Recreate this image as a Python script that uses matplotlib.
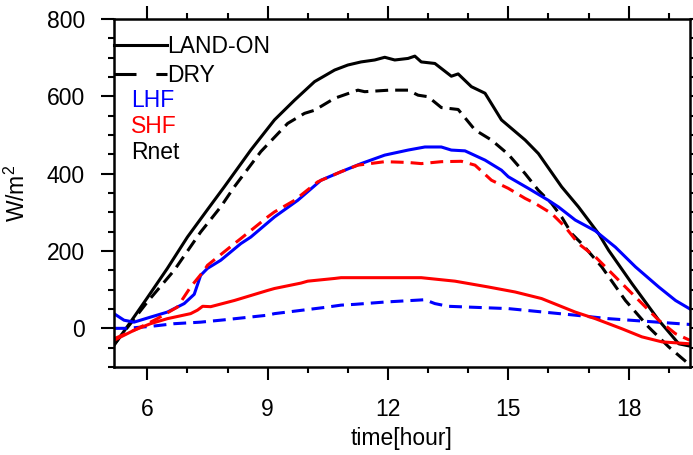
import matplotlib
matplotlib.use("Agg")
import matplotlib.pyplot as plt
from matplotlib.ticker import MultipleLocator
from matplotlib.lines import Line2D

plt.rcParams['font.family'] = ['Liberation Sans', 'DejaVu Sans']
plt.rcParams['mathtext.fontset'] = 'custom'
plt.rcParams['mathtext.rm'] = 'Liberation Sans'

# ---- data ----
t_rnet_on = [5.17, 5.58, 6.0, 6.5, 7.0, 7.5, 7.92, 8.58, 9.17, 9.67, 10.17, 10.67, 11.0, 11.33,
             11.67, 11.92, 12.17, 12.5, 12.67, 12.83, 13.17, 13.58, 13.75, 14.08, 14.42, 14.83,
             15.42, 15.75, 16.33, 16.75, 17.25, 17.5, 18.08, 18.75, 19.25, 19.53]
rnet_on = [-44, 16, 79, 155, 236, 307, 366, 461, 539, 590, 638, 668, 681, 689,
           694, 701, 694, 698, 704, 689, 685, 652, 658, 625, 608, 539,
           487, 452, 366, 314, 245, 202, 116, 21, -40, -46]

t_rnet_dry = [5.17, 5.58, 6.0, 6.67, 7.33, 7.83, 8.17, 8.83, 9.5, 9.92, 10.17, 10.67, 11.25,
              11.42, 12.04, 12.5, 12.75, 13.0, 13.33, 13.75, 14.17, 14.58, 15.0, 15.42, 15.75,
              16.08, 16.33, 16.58, 16.83, 17.33, 17.92, 18.5, 19.0, 19.53]
rnet_dry = [-42, 12, 68, 150, 249, 314, 366, 457, 530, 556, 564, 595, 616,
            612, 616, 616, 603, 599, 571, 566, 513, 487, 450, 400, 357,
            323, 288, 245, 219, 159, 72, 3, -48, -95]

t_lhf_on = [5.17, 5.42, 5.67, 6.08, 6.5, 6.92, 7.17, 7.33, 7.5, 7.83, 8.33, 8.58, 9.17, 9.75,
            10.33, 10.83, 11.33, 11.92, 12.5, 12.92, 13.33, 13.58, 13.92, 14.42, 14.83, 15.0,
            15.5, 16.0, 16.25, 16.67, 17.17, 17.67, 18.17, 18.75, 19.17, 19.53]
lhf_on = [38, 21, 16, 29, 42, 64, 88, 137, 155, 176, 219, 236, 288, 331,
          383, 405, 426, 448, 461, 469, 469, 461, 459, 435, 409, 392,
          362, 331, 314, 280, 252, 210, 159, 107, 72, 50]

t_shf_on = [5.17, 5.67, 6.08, 6.5, 7.08, 7.25, 7.38, 7.58, 8.17, 8.33, 9.0, 9.17, 9.83, 10.0,
            10.67, 10.83, 11.92, 12.83, 13.67, 14.5, 15.17, 15.83, 16.67, 17.17, 17.83, 18.33,
            18.83, 19.53]
shf_on = [-31, -5, 12, 25, 38, 47, 57, 56, 72, 77, 98, 103, 117, 122,
          129, 131, 131, 131, 122, 107, 94, 77, 42, 25, -1, -22,
          -35, -40]

t_shf_dry = [5.17, 5.67, 6.08, 6.25, 6.75, 7.08, 7.42, 7.5, 8.17, 8.33, 9.0, 9.17, 9.67, 10.25,
             10.83, 11.25, 11.92, 12.5, 12.83, 13.33, 13.83, 14.17, 14.58, 15.0, 15.42, 15.67,
             16.08, 16.42, 16.75, 17.17, 17.92, 18.75, 19.17, 19.53]
shf_dry = [-27, -5, 16, 25, 55, 107, 150, 163, 219, 232, 288, 301, 331, 379,
           405, 422, 431, 429, 426, 431, 432, 422, 383, 362, 336, 323,
           297, 262, 219, 185, 107, 21, -14, -31]

t_lhf_dry = [5.17, 5.5, 5.83, 6.08, 6.67, 7.33, 7.92, 9.0, 9.17, 10.42, 10.83, 11.17, 11.92,
             12.92, 13.17, 13.5, 15.0, 16.67, 17.5, 19.53]
lhf_dry = [0, 0, 3, 5, 12, 16, 22, 34, 38, 54, 60, 62, 68,
           74, 64, 57, 51, 34, 25, 10]

# ---- figure ----
fig = plt.figure(figsize=(6.93, 4.55), dpi=100)
ax = fig.add_axes([114/693, 88/455, 576/693, 348/455])

FS = 16.5
lw = 2.2
dash = (4.2, 2.3)
ax.plot(t_rnet_on, rnet_on, color='black', lw=lw)
ax.plot(t_rnet_dry, rnet_dry, color='black', lw=lw, ls=(0, dash))
ax.plot(t_lhf_on, lhf_on, color='#0000ff', lw=lw)
ax.plot(t_lhf_dry, lhf_dry, color='#0000ff', lw=lw, ls=(0, dash))
ax.plot(t_shf_on, shf_on, color='#ff0000', lw=lw)
ax.plot(t_shf_dry, shf_dry, color='#ff0000', lw=lw, ls=(0, dash))

ax.set_xlim(5.17, 19.53)
ax.set_ylim(-100, 800)

ax.xaxis.set_major_locator(MultipleLocator(3))
ax.xaxis.set_minor_locator(MultipleLocator(1))
ax.yaxis.set_major_locator(MultipleLocator(200))
ax.yaxis.set_minor_locator(MultipleLocator(50))

for s in ax.spines.values():
    s.set_linewidth(1.8)
ax.tick_params(which='both', direction='out', top=True, right=True, width=1.5)
ax.tick_params(which='major', length=9.5, labelsize=FS)
ax.tick_params(which='minor', length=4.5)
ax.tick_params(axis='y', which='major', pad=11.5)
ax.tick_params(axis='x', which='major', pad=12.5)

ax.set_xlabel('time[hour]', fontsize=FS, labelpad=5)
ax.set_ylabel('W/m$^{2}$', fontsize=FS, labelpad=12)

handles = [Line2D([], [], color='black', lw=lw),
           Line2D([], [], color='black', lw=lw, ls=(0, (7.2, 6.5)))]
ax.legend(handles, ['LAND-ON', 'DRY'], loc='upper left', bbox_to_anchor=(0, 0.955),
          frameon=False, fontsize=FS, borderaxespad=0, borderpad=0,
          handletextpad=0, handlelength=2.31, labelspacing=0.27)

ax.text(0.0295, 0.767, 'LHF', color='#0000ff', fontsize=FS, va='center', transform=ax.transAxes)
ax.text(0.0295, 0.690, 'SHF', color='#ff0000', fontsize=FS, va='center', transform=ax.transAxes)
ax.text(0.0295, 0.615, 'Rnet', color='black', fontsize=FS, va='center', transform=ax.transAxes)

fig.savefig('out.png', dpi=100)
